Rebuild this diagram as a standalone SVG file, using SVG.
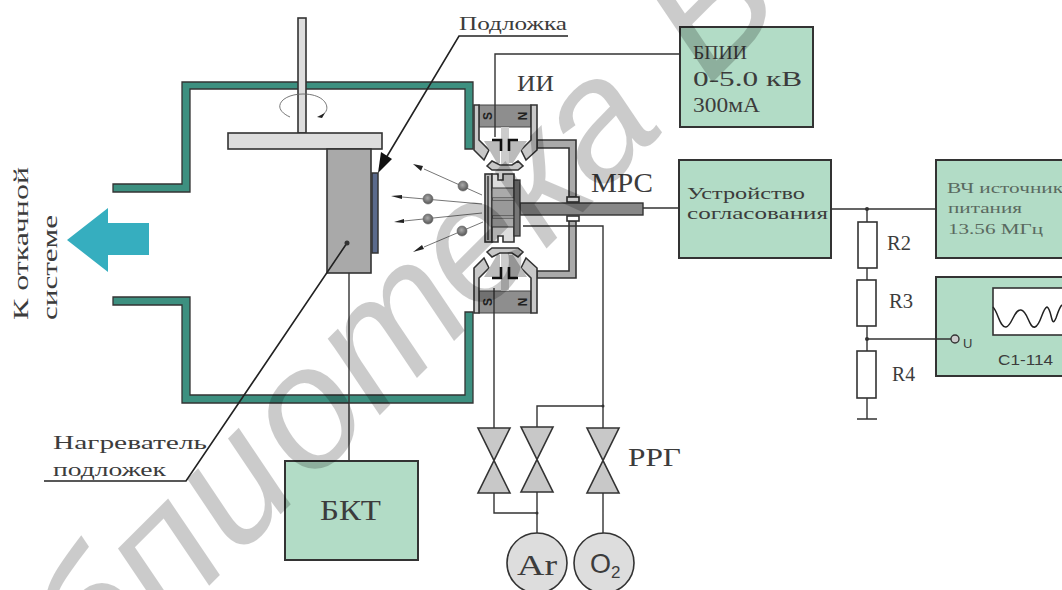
<svg xmlns="http://www.w3.org/2000/svg" width="1062" height="590" viewBox="0 0 1062 590">
<style>
text{font-family:"Liberation Serif","DejaVu Serif",serif;fill:#3c3c3c}
.s{font-family:"Liberation Sans",sans-serif}
.box{fill:#b2dcc6;stroke:#333;stroke-width:2}
.w{fill:none;stroke:#333;stroke-width:1.4}
.dk{fill:none;stroke:#222;stroke-width:1.6}
.g{fill:#c8c8c8;stroke:#333;stroke-width:1.6}
.r{fill:#fff;stroke:#333;stroke-width:1.6}
.thin{fill:none;stroke:#666;stroke-width:.9}
.dot{fill:#333}
.ball{fill:url(#bg);stroke:#666;stroke-width:.6}
.lt{fill:#ddd;stroke:#333;stroke-width:1.6}
.mg{fill:#aaa;stroke:#333;stroke-width:1.6}
.sn{font-family:"Liberation Sans",sans-serif;font-size:12px;font-weight:bold;fill:#222;text-anchor:middle}
</style>
<defs>
<radialGradient id="bg" cx=".45" cy=".4" r=".6"><stop offset="0" stop-color="#aaa"/><stop offset="1" stop-color="#555"/></radialGradient>
<g id="mag">
<rect x="479" y="105" width="52" height="22" fill="#8e8e8e" stroke="#444"/>
<path class="g" d="M474 105H479V140L489 150L484 160L474 150Z"/>
<path class="g" d="M537 105H531V140L521 150L526 160L537 150Z"/>
<rect x="501" y="127" width="8" height="40" fill="#ccc"/>
<path d="M484 141H500V163H497Z" fill="#bbb"/>
<path d="M527 141H509V163H513Z" fill="#bbb"/>
<path d="M492 140H501V151" fill="none" stroke="#111" stroke-width="2.6"/>
<path d="M518 140H509V151" fill="none" stroke="#111" stroke-width="2.6"/>
<path class="g" d="M487 166L492 161L500 165H512L518 161L523 166L518 170H492Z"/>
</g>
<circle id="ball" r="5" cx="0" cy="0"/>
<path id="valve" class="g" d="M-16 0H16L-16 65H16Z"/>
</defs>

<g id="chamber"><path d="M113 184H182V82H473V149H465V89H190V192H113Z" fill="#3d9080" stroke="#333" stroke-width="1.3"/><path d="M113 297H190V395H465V312H473V403H182V305H113Z" fill="#3d9080" stroke="#333" stroke-width="1.3"/></g>

<g id="holder">
<rect class="lt" x="298" y="18" width="8" height="115"/>
<path class="thin" d="M290 117C270 108 282 94 303 94C327 94 332 110 322 115"/>
<path d="M317 117L325 113L322 118Z" fill="#222"/>
<rect class="lt" x="228" y="133" width="154" height="16"/>
</g>
<g id="heater"><rect x="327" y="149" width="44" height="124" fill="#a9a9a9" stroke="#333" stroke-width="1.6"/></g>
<g id="substrate"><rect x="372" y="173" width="6" height="80" fill="#5a6a8c" stroke="#333" stroke-width="1.5"/></g>

<g id="ions">
<path class="thin" d="M424 169L482 195M402 197L482 204M404 221L482 213M424 247L483 222"/>
<path d="M413 164L423 166L421 171ZM391 196L402 195L402 199ZM394 222L404 219L404 223ZM413 252L422 245L424 249Z" fill="#222"/>
<use href="#ball" x="463" y="186" class="ball"/><use href="#ball" x="428" y="199" class="ball"/><use href="#ball" x="428" y="219" class="ball"/><use href="#ball" x="462" y="231" class="ball"/>
</g>

<g id="magnetron">
<path class="mg" d="M537 140H576V197H569V148H537Z"/>
<path class="mg" d="M537 278H576V221H569V271H537Z"/>
<rect x="520" y="203" width="123" height="12" fill="#888" stroke="#333" stroke-width="1.4"/>
<rect class="r" x="567" y="197" width="12" height="5"/><rect class="r" x="567" y="216" width="12" height="5"/>
<use href="#mag"/>
<use href="#mag" transform="translate(0 418) scale(1 -1)"/>
<text class="sn" transform="translate(492 116) rotate(-90)">S</text>
<text class="sn" transform="translate(527 116) rotate(-90)">N</text>
<text class="sn" transform="translate(492 302) rotate(-90)">S</text>
<text class="sn" transform="translate(527 302) rotate(-90)">N</text>
<rect class="g" x="485" y="174" width="7" height="68" style="fill:#bbb"/>
<rect x="487" y="176" width="2" height="64" fill="#555"/>
<path class="lt" d="M492 174H498V180H503V174H514V190H492Z"/>
<path class="lt" d="M492 242H498V236H503V242H514V226H492Z"/>
<rect x="492" y="188" width="22" height="10" fill="#aaa" stroke="#333"/><rect x="492" y="200" width="22" height="16" fill="#999" stroke="#333"/><rect x="492" y="218" width="22" height="9" fill="#aaa" stroke="#333"/>
<rect x="514" y="180" width="6" height="56" fill="#777" stroke="#333" stroke-width="1.3"/>
</g>

<g id="valves"><use href="#valve" x="494" y="428"/><use href="#valve" x="537" y="427"/><use href="#valve" x="603" y="428"/></g>

<g id="n-bpii"><rect class="box" x="680" y="27" width="133" height="100"/><text x="693" y="59" font-size="19" textLength="54" lengthAdjust="spacingAndGlyphs">БПИИ</text><text x="693" y="86" font-size="20" textLength="109" lengthAdjust="spacingAndGlyphs">0-5.0 кВ</text><text x="693" y="112" font-size="20" textLength="67" lengthAdjust="spacingAndGlyphs">300мА</text></g>
<g id="n-match"><rect class="box" x="679" y="160" width="152" height="98"/><text x="687" y="199" font-size="17" textLength="118" lengthAdjust="spacingAndGlyphs">Устройство</text><text x="687" y="219" font-size="17" textLength="141" lengthAdjust="spacingAndGlyphs">согласования</text></g>
<g id="n-hf"><rect class="box" x="936" y="160" width="130" height="98"/><text x="947" y="193" font-size="15" style="fill:#5a6a60" textLength="116" lengthAdjust="spacingAndGlyphs">ВЧ источник</text><text x="948" y="213" font-size="15" style="fill:#5a6a60" textLength="74" lengthAdjust="spacingAndGlyphs">питания</text><text x="948" y="234" font-size="15" style="fill:#5a6a60" textLength="95" lengthAdjust="spacingAndGlyphs">13.56 МГц</text></g>
<g id="n-scope"><rect class="box" x="936" y="277" width="130" height="99"/><rect x="993" y="288" width="75" height="47" fill="#fff" stroke="#333" stroke-width="1.6"/><path d="M993 307C998 312 1000 328 1006 327C1012 326 1014 309 1021 310C1028 311 1029 329 1035 327C1041 325 1042 309 1047 307C1052 309 1051 330 1056 318C1058 312 1060 306 1062 305" fill="none" stroke="#222" stroke-width="1.5"/><text class="s" x="963" y="348" font-size="13">U</text><text class="s" x="998" y="365" font-size="15" textLength="55" lengthAdjust="spacingAndGlyphs">C1-114</text></g>
<g id="n-bkt"><rect class="box" x="285" y="461" width="133" height="99"/><text x="320" y="520" font-size="29" textLength="61" lengthAdjust="spacingAndGlyphs">БКТ</text></g>
<g id="n-ar"><circle cx="537" cy="563" r="30" fill="#ddd" stroke="#333" stroke-width="1.6"/><text x="517" y="575" font-size="30" textLength="40" lengthAdjust="spacingAndGlyphs">Ar</text></g>
<g id="n-o2"><circle cx="604" cy="563" r="30" fill="#ddd" stroke="#333" stroke-width="1.6"/><text class="s" x="590" y="573" font-size="27">O<tspan font-size="17" dy="5">2</tspan></text></g>
<g id="n-r"><rect class="r" x="858" y="222" width="19" height="46"/><rect class="r" x="857" y="280" width="19" height="46"/><rect class="r" x="857" y="351" width="19" height="47"/></g>

<g id="connectors">
<path class="w" d="M643 208H679M832 209H936M867 209V222M867 268V280M867 326V351M867 339H951M867 398V419M857 419H877"/>
<path class="w" d="M495 137V54H679M494 288V428M523 226H603V428M537 427V406H603M494 493V513H537M537 492V533M603 493V533M349 273V461"/>
<path class="dk" d="M568 36H459L380 168"/>
<path d="M378 173L381 152L392 159Z" fill="#111"/>
<path class="dk" d="M44 481H186L347 243"/>
<circle class="dot" cx="347" cy="243" r="2.5"/>
<circle class="dot" cx="867" cy="209" r="2"/>
<circle class="dot" cx="867" cy="339" r="2"/>
<circle class="dot" cx="537" cy="513" r="1.5"/>
<circle class="dot" cx="603" cy="406" r="1.5"/>
<circle cx="955" cy="339" r="4" fill="#ccc" stroke="#333" stroke-width="1.4"/>
</g>

<g id="labels">
<text x="459" y="30" font-size="18" textLength="108" lengthAdjust="spacingAndGlyphs">Подложка</text>
<text x="517" y="91" font-size="23" textLength="37" lengthAdjust="spacingAndGlyphs">ИИ</text>
<text x="591" y="192" font-size="28" textLength="62" lengthAdjust="spacingAndGlyphs">МРС</text>
<text x="628" y="466" font-size="25" textLength="53" lengthAdjust="spacingAndGlyphs">РРГ</text>
<text x="887" y="250" font-size="20" textLength="24" lengthAdjust="spacingAndGlyphs">R2</text><text x="889" y="308" font-size="20" textLength="24" lengthAdjust="spacingAndGlyphs">R3</text><text x="892" y="381" font-size="20" textLength="23" lengthAdjust="spacingAndGlyphs">R4</text>
<text x="53" y="449" font-size="19" textLength="154" lengthAdjust="spacingAndGlyphs">Нагреватель</text><text x="53" y="476" font-size="19" textLength="113" lengthAdjust="spacingAndGlyphs">подложек</text>
<text font-size="20" textLength="153" lengthAdjust="spacingAndGlyphs" transform="translate(28 320) rotate(-90)">К откачной</text>
<text font-size="20" textLength="105" lengthAdjust="spacingAndGlyphs" transform="translate(57 320) rotate(-90)">системе</text>
</g>
<g id="pump"><path d="M67 240L108 208V223H149V255H108V272Z" fill="#36aebf"/></g>
<g id="watermark" opacity=".2"><text transform="translate(397.5 397.5) rotate(-45)" x="-423 -325 -226 -124 -28 112 208 286 440" font-size="172" font-style="italic" style="font-family:'Liberation Sans',sans-serif;fill:#000">бпиоmекаБ</text></g>
</svg>
